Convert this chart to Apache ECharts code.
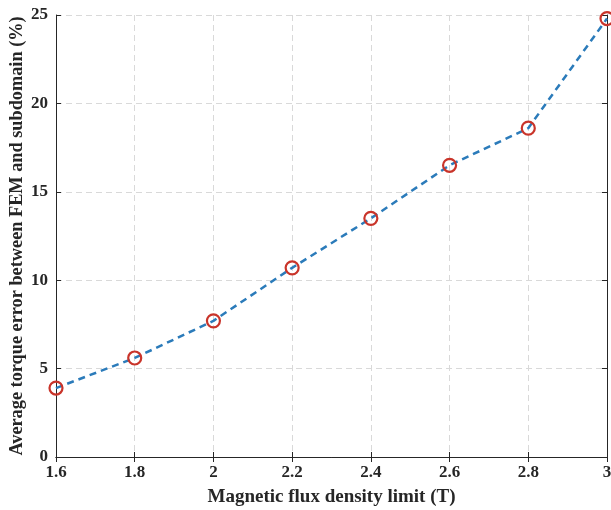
<!DOCTYPE html>
<html><head><meta charset="utf-8">
<script src="https://cdn.jsdelivr.net/npm/echarts@6/dist/echarts.min.js"></script>
<style>html,body{margin:0;padding:0;background:#fff}#c{width:611px;height:510px}</style>
</head><body><div id="c"></div>
<script>
const xValues = [1.6, 1.8, 2.0, 2.2, 2.4, 2.6, 2.8, 3.0];
const errorValues = [3.9, 5.6, 7.7, 10.7, 13.5, 16.5, 18.6, 24.8];
const xTitle = 'Magnetic flux density limit (T)';
const yTitle = 'Average torque error between FEM and subdomain (%)';

const font = 'Liberation Serif, Times New Roman, serif';
const axisLine = {show: true, lineStyle: {color: '#262626', width: 1}};
const gridLine = {show: true, lineStyle: {color: '#d9d9d9', type: [6, 4], width: 1}};
const data = xValues.map((x, i) => [x, errorValues[i]]);

const chart = echarts.init(document.getElementById('c'), null, {renderer: 'canvas'});
chart.setOption({
  animation: false,
  grid: {left: 56, right: 4, top: 15, bottom: 53, containLabel: false, outerBoundsMode: 'none'},
  xAxis: [{
    type: 'value', min: 1.6, max: 3, interval: 0.2,
    axisLine: axisLine, axisTick: {show: true, inside: true, length: 5, lineStyle: {color: '#262626'}},
    splitLine: gridLine,
    axisLabel: {color: '#262626', fontFamily: font, fontWeight: 'bold', fontSize: 17, margin: 7,
      formatter: v => (Math.round(v * 10) / 10).toString()},
    name: xTitle, nameLocation: 'middle', nameGap: 31, nameMoveOverlap: false,
    nameTextStyle: {color: '#262626', fontFamily: font, fontWeight: 'bold', fontSize: 19}
  }, {
    type: 'value', min: 1.6, max: 3, interval: 0.2, position: 'top',
    axisLine: axisLine, axisTick: {show: true, inside: true, length: 5, lineStyle: {color: '#262626'}},
    axisLabel: {show: false}, splitLine: {show: false}
  }],
  yAxis: [{
    type: 'value', min: 0, max: 25, interval: 5,
    axisLine: axisLine, axisTick: {show: true, inside: true, length: 5, lineStyle: {color: '#262626'}},
    splitLine: gridLine,
    axisLabel: {color: '#262626', fontFamily: font, fontWeight: 'bold', fontSize: 17, margin: 8},
    name: yTitle, nameLocation: 'middle', nameGap: 30, nameMoveOverlap: false,
    nameTextStyle: {color: '#262626', fontFamily: font, fontWeight: 'bold', fontSize: 18.3}
  }, {
    type: 'value', min: 0, max: 25, interval: 5, position: 'right',
    axisLine: axisLine, axisTick: {show: true, inside: true, length: 5, lineStyle: {color: '#262626'}},
    axisLabel: {show: false}, splitLine: {show: false}
  }],
  series: [{
    type: 'line', data: data, xAxisIndex: 0, yAxisIndex: 0,
    smooth: false, clip: false,
    lineStyle: {color: '#2b7bba', width: 2.5, type: [7, 5]},
    symbol: 'circle', symbolSize: 13,
    itemStyle: {color: 'rgba(255,255,255,0)', borderColor: '#c9342a', borderWidth: 2.2},
    z: 3
  }]
});
</script></body></html>
